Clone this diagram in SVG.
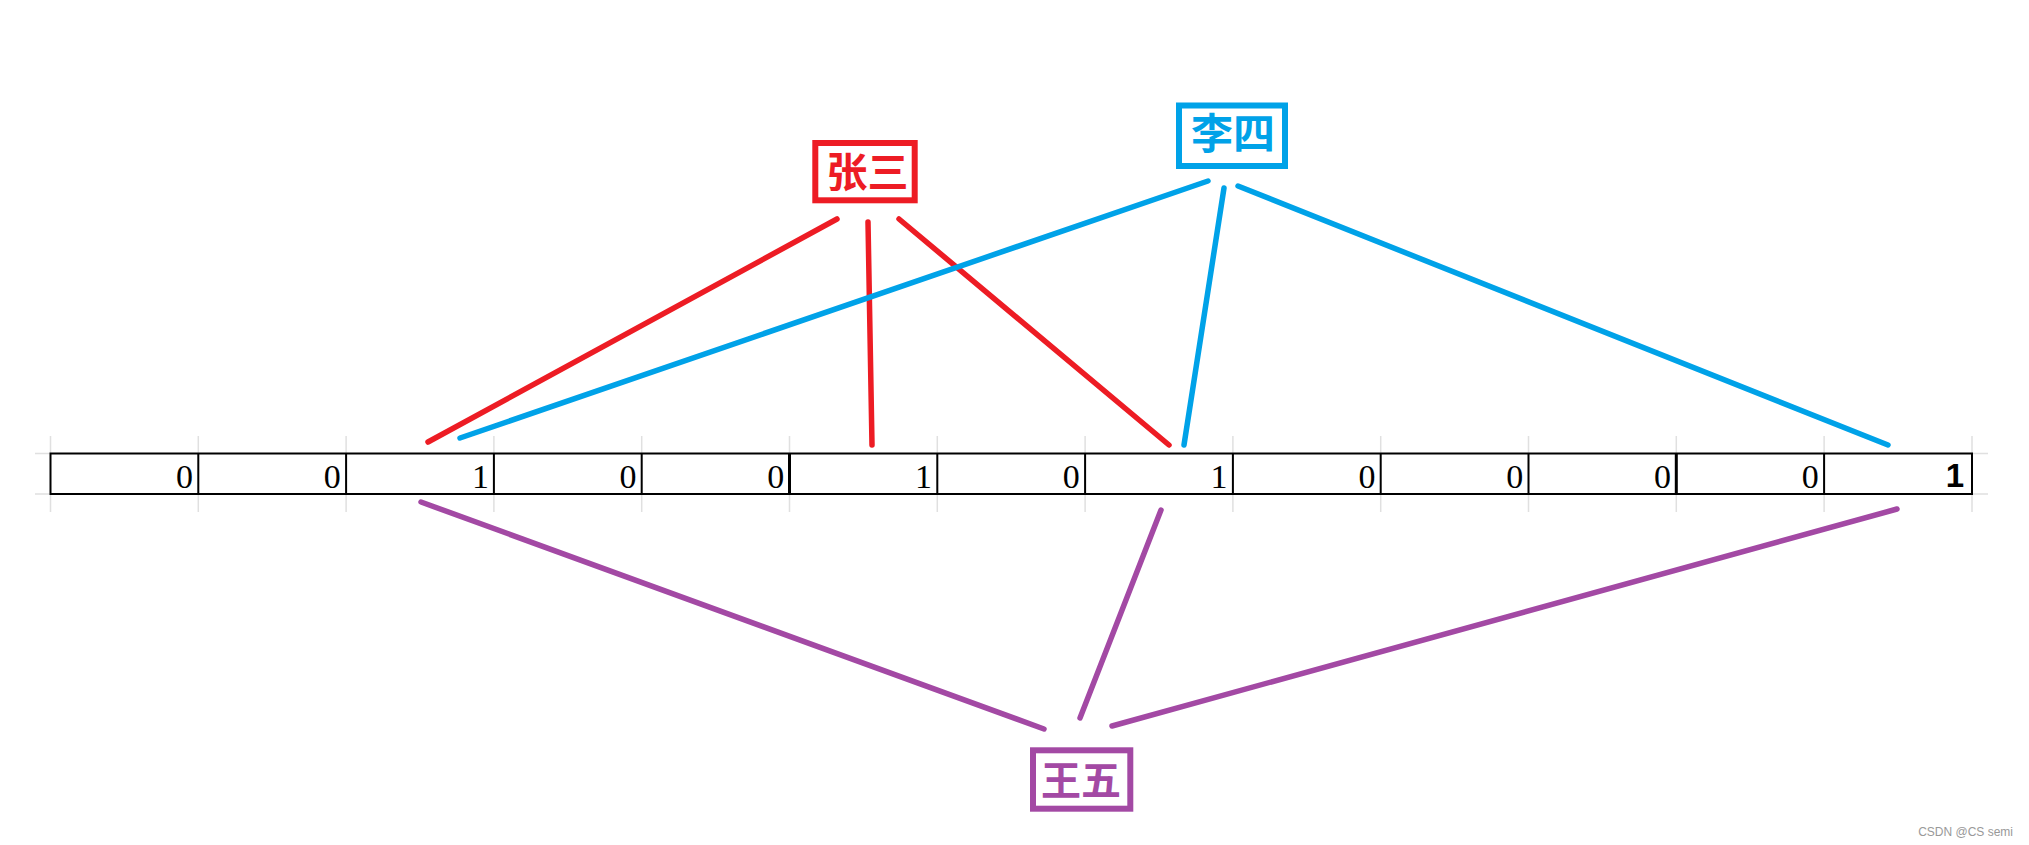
<svg xmlns="http://www.w3.org/2000/svg" width="2029" height="845" viewBox="0 0 2029 845">
<style>
.grid{stroke:#e0e0e0;stroke-width:1.5;fill:none}
.cell{stroke:#000;stroke-width:2;fill:none}
.thick{stroke:#000;stroke-width:3}
.num{font-family:"Liberation Serif",serif;font-size:34px;fill:#000;text-anchor:end}
.numb{font-family:"Liberation Sans",Arial,sans-serif;font-size:33px;font-weight:bold;fill:#000;text-anchor:end}
.lbl{font-family:"Noto Sans CJK SC","Noto Sans",sans-serif;font-weight:bold;text-anchor:middle}
.c{fill:none;stroke-width:5.5;stroke-linecap:round}
.red{stroke:#ED1C24}
.blue{stroke:#00A2E8}
.purple{stroke:#A349A4}
</style>
<rect width="2029" height="845" fill="#fff"/>
<g id="table">
<g class="grid">
<path d="M35 453.5H50.5M35 494H50.5M1972 453.5H1988M1972 494H1988"/>
<path d="M50.5 436V453M50.5 494V512M198.3 436V453M198.3 494V512M346.1 436V453M346.1 494V512M493.9 436V453M493.9 494V512M641.7 436V453M641.7 494V512M789.5 436V453M789.5 494V512M937.3 436V453M937.3 494V512M1085.1 436V453M1085.1 494V512M1232.9 436V453M1232.9 494V512M1380.7 436V453M1380.7 494V512M1528.5 436V453M1528.5 494V512M1676.3 436V453M1676.3 494V512M1824.1 436V453M1824.1 494V512M1972 436V453M1972 494V512"/>
</g>
<rect class="cell" x="50.5" y="453.5" width="1921.5" height="40.5"/>
<path class="cell" d="M198.3 453.5V494M346.1 453.5V494M493.9 453.5V494M641.7 453.5V494M937.3 453.5V494M1085.1 453.5V494M1232.9 453.5V494M1380.7 453.5V494M1528.5 453.5V494M1824.1 453.5V494"/>
<path class="thick" d="M789.5 453.5V494M1676.3 453.5V494"/>
<text class="num" x="193" y="488">0</text>
<text class="num" x="340.8" y="488">0</text>
<text class="num" x="489" y="488">1</text>
<text class="num" x="636.4" y="488">0</text>
<text class="num" x="784.2" y="488">0</text>
<text class="num" x="932" y="488">1</text>
<text class="num" x="1079.8" y="488">0</text>
<text class="num" x="1227.6" y="488">1</text>
<text class="num" x="1375.4" y="488">0</text>
<text class="num" x="1523.2" y="488">0</text>
<text class="num" x="1671" y="488">0</text>
<text class="num" x="1818.8" y="488">0</text>
<text class="numb" x="1964" y="487">1</text>
</g>
<g id="connectors">
<line class="c red" x1="837" y1="219" x2="428" y2="442"/>
<line class="c red" x1="868" y1="222" x2="872" y2="445"/>
<line class="c red" x1="899" y1="219" x2="1169" y2="445"/>
<line class="c blue" x1="1208" y1="181" x2="460" y2="438"/>
<line class="c blue" x1="1224" y1="188" x2="1184" y2="445"/>
<line class="c blue" x1="1238" y1="186" x2="1888" y2="445"/>
<line class="c purple" x1="421" y1="502" x2="1044" y2="729"/>
<line class="c purple" x1="1161" y1="510" x2="1080" y2="718"/>
<line class="c purple" x1="1897" y1="509" x2="1112" y2="726"/>
</g>
<g id="zhangsan">
<rect x="815.3" y="143" width="99.4" height="57.3" fill="#fff" stroke="#ED1C24" stroke-width="6"/>
<text class="lbl" x="867.5" y="187" font-size="41" fill="#ED1C24">张三</text>
</g>
<g id="lisi">
<rect x="1179" y="105.5" width="106" height="60.5" fill="#fff" stroke="#00A2E8" stroke-width="6"/>
<text class="lbl" x="1233" y="149" font-size="42" fill="#00A2E8">李四</text>
</g>
<g id="wangwu">
<rect x="1033" y="750.3" width="97.3" height="58.4" fill="#fff" stroke="#A349A4" stroke-width="6"/>
<text class="lbl" x="1081" y="795" font-size="40" fill="#A349A4">王五</text>
</g>
<text x="2013" y="836" font-family="Liberation Sans,Arial,sans-serif" font-size="12" fill="#999" text-anchor="end">CSDN @CS semi</text>
</svg>
